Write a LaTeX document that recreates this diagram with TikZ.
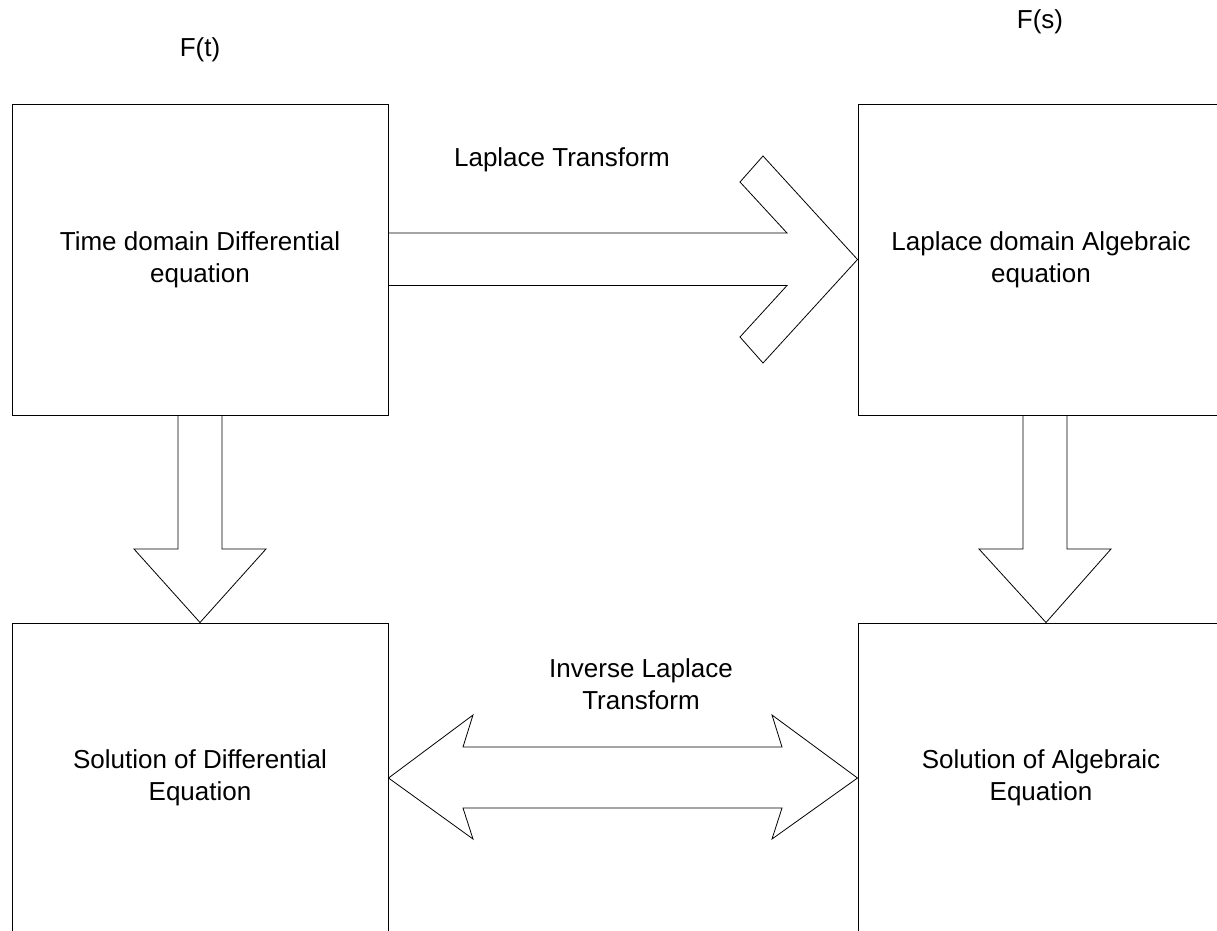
\documentclass[tikz,border=0pt]{standalone}
\usepackage{fontspec}
\setmainfont{Liberation Sans}
\usetikzlibrary{positioning, calc}

\begin{document}
\begin{tikzpicture}[
    x=1pt, y=-1pt,
    every node/.style={font=\fontsize{26}{32}\selectfont},
    block/.style={draw, line width=1pt, align=center, minimum height=311pt},
    leftblock/.style={block, minimum width=376pt},
    rightblock/.style={block, minimum width=366pt},
    fat/.style={draw, line width=0.8pt, line join=miter},
    lbl/.style={align=center}
]
    \path[use as bounding box, fill=white] (0,0) rectangle (1217,930);
    \clip (0,0) rectangle (1217,930);

    % Top row
    \node[leftblock] (tdom) at (200,259.5) {Time domain Differential\\equation};
    \node[rightblock, right=469pt of tdom] (sdom) {Laplace domain Algebraic\\equation};

    % Bottom row
    \node[leftblock, minimum height=310pt, below=207pt of tdom] (tsol) {Solution of Differential\\Equation};
    \node[rightblock, minimum height=310pt, below=207pt of sdom] (ssol) {Solution of Algebraic\\Equation};

    % Function labels
    \node[lbl] (ft) at (200,50) {F(t)};
    \node[lbl] (fs) at (1040,22) {F(s)};

    % Laplace transform arrow
    \draw[fat] ($(tdom.east)+(0,-26.5)$) -- (787,233) -- (740,182) -- (763,156)
        -- (sdom.west) -- (763,363) -- (740,337) -- (787,285.5) -- ($(tdom.east)+(0,26)$);
    \node[lbl] (lt) at (562,160) {Laplace Transform};

    % Down arrows
    \draw[fat] (178,415) -- (178,549) -- (134,549) -- (tsol.north)
        -- (266,549) -- (222,549) -- (222,415);
    \draw[fat] (1023,415) -- (1023,549) -- (979,549) -- ($(ssol.north)+(5,0)$)
        -- (1111,549) -- (1067,549) -- (1067,415);

    % Inverse transform arrow
    \draw[fat] (tsol.east) -- (473,715) -- (463,747) -- (782,747) -- (772,715)
        -- (ssol.west) -- (772,839) -- (782,808) -- (463,808) -- (473,839) -- cycle;
    \node[lbl] (ilt) at (641,684) {Inverse Laplace\\Transform};
\end{tikzpicture}
\end{document}
